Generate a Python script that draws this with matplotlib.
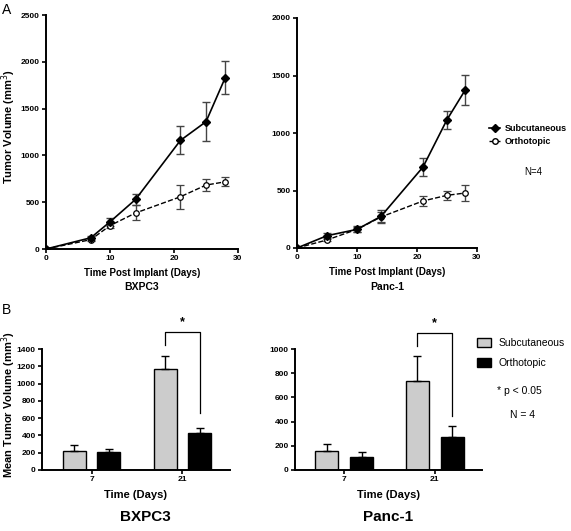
import numpy as np
import matplotlib
matplotlib.use('Agg')
import matplotlib.pyplot as plt
from matplotlib.lines import Line2D

plt.rcParams['font.family'] = ['Liberation Sans', 'DejaVu Sans']

# ---- data ----
days_bx = [0, 7, 10, 14, 21, 25, 28]
sub_bx = [0, 120, 290, 530, 1160, 1360, 1830]
sub_bx_err = [0, 20, 40, 60, 150, 210, 175]
ort_bx = [0, 100, 250, 385, 558, 683, 718]
ort_bx_err = [0, 15, 30, 80, 130, 65, 50]

days_pa = [0, 5, 10, 14, 21, 25, 28]
sub_pa = [0, 107, 162, 275, 704, 1116, 1371]
sub_pa_err = [0, 20, 25, 55, 75, 78, 130]
ort_pa = [0, 70, 162, 270, 409, 458, 478]
ort_pa_err = [0, 10, 20, 40, 40, 38, 70]

bar_days = ['7', '21']
bar_sub_bx = [223, 1173]
bar_sub_bx_err = [70, 142]
bar_ort_bx = [212, 431]
bar_ort_bx_err = [30, 50]
bar_sub_pa = [159, 736]
bar_sub_pa_err = [60, 204]
bar_ort_pa = [107, 275]
bar_ort_pa_err = [40, 88]

W, H = 571, 531
fig = plt.figure(figsize=(W / 100, H / 100), dpi=100)
fig.patch.set_facecolor('white')


def px_axes(l, t, r, b):
    return fig.add_axes([l / W, 1 - b / H, (r - l) / W, (b - t) / H])


def ftext(x, y, s, **kw):
    fig.text(x / W, 1 - y / H, s, **kw)


def style(ax):
    for s in ['top', 'right']:
        ax.spines[s].set_visible(False)
    for s in ['left', 'bottom']:
        ax.spines[s].set_linewidth(1.4)
    ax.tick_params(direction='out', length=3, width=1.2, labelsize=6, pad=1.5)
    for lab in ax.get_xticklabels() + ax.get_yticklabels():
        lab.set_fontweight('bold')


def growth(ax, days, sub, sube, ort, orte, ymax):
    ax.errorbar(days, ort, yerr=orte, color='black', ls='--', lw=1.0,
                marker='o', mfc='white', mec='black', ms=4, mew=0.9,
                ecolor='#444444', elinewidth=1.0, capsize=3)
    ax.errorbar(days, sub, yerr=sube, color='black', ls='-', lw=1.2,
                marker='D', mfc='black', mec='black', ms=4,
                ecolor='#444444', elinewidth=1.0, capsize=3)
    ax.set_xlim(0, 30)
    ax.set_ylim(0, ymax)
    ax.set_xticks([0, 10, 20, 30])
    ax.set_yticks(np.arange(0, ymax + 1, 500))
    ax.set_xlabel('Time Post Implant (Days)', fontsize=7, fontweight='bold', labelpad=4)
    style(ax)


# ---- panel A ----
axA1 = px_axes(46, 15, 238, 249)
growth(axA1, days_bx, sub_bx, sub_bx_err, ort_bx, ort_bx_err, 2500)
axA1.set_ylabel('Tumor Volume (mm$^3$)', fontsize=8, fontweight='bold')
axA1.yaxis.set_label_coords((18 - 46) / 192, 0.525)

axA2 = px_axes(297, 18, 477, 248)
growth(axA2, days_pa, sub_pa, sub_pa_err, ort_pa, ort_pa_err, 2000)

hA = [Line2D([], [], color='black', ls='-', lw=1.2, marker='D', ms=4, mfc='black'),
      Line2D([], [], color='black', ls='--', lw=1.0, marker='o', ms=4, mfc='white')]
axA2.legend(hA, ['Subcutaneous', 'Orthotopic'], frameon=False, loc='center left',
            bbox_to_anchor=(481 / W, 1 - 135 / H), bbox_transform=fig.transFigure,
            handlelength=1.2, handletextpad=0.5, labelspacing=0.45,
            prop={'weight': 'bold', 'size': 6.5})
ftext(533, 172, 'N=4', fontsize=7, ha='center', va='center')

ftext(142, 287, 'BXPC3', fontsize=7.5, fontweight='bold', ha='center', va='center')
ftext(387, 287, 'Panc-1', fontsize=7.5, fontweight='bold', ha='center', va='center')
ftext(2, 10, 'A', fontsize=10, ha='left', va='center')
ftext(2, 310, 'B', fontsize=10, ha='left', va='center')


# ---- panel B ----
def bars(ax, sub, sube, ort, orte, ymax, step, br):
    x = np.arange(len(bar_days))
    off, w = 0.192, 0.253
    ekw = dict(elinewidth=1.0, capsize=3, capthick=1.0)
    ax.bar(x - off, sub, w, yerr=[np.zeros(len(sube)), sube], color='#cccccc',
           edgecolor='black', lw=1.0, error_kw=ekw, label='Subcutaneous')
    ax.bar(x + off, ort, w, yerr=[np.zeros(len(orte)), orte], color='black',
           edgecolor='black', lw=1.0, error_kw=ekw, label='Orthotopic')
    ax.set_xlim(-0.544, 1.522)
    ax.set_ylim(0, ymax)
    ax.set_yticks(np.arange(0, ymax + 1, step))
    ax.set_xticks(x)
    ax.set_xticklabels(bar_days)
    ax.set_xlabel('Time (Days)', fontsize=8, fontweight='bold', labelpad=5)
    style(ax)
    # significance bracket
    top, lft, rgt = br
    ax.plot([1 - off, 1 - off, 1 + off, 1 + off], [lft, top, top, rgt],
            color='black', lw=0.9, clip_on=False)
    ax.text(1, top + ymax * 0.035, '*', fontsize=9, fontweight='bold',
            ha='center', va='bottom', clip_on=False)


axB1 = px_axes(42, 349, 230, 470)
bars(axB1, bar_sub_bx, bar_sub_bx_err, bar_ort_bx, bar_ort_bx_err, 1400, 200,
     (1596, 1446, 661))
axB1.set_ylabel('Mean Tumor Volume (mm$^3$)', fontsize=8, fontweight='bold')
axB1.yaxis.set_label_coords((18 - 42) / 188, 0.54)

axB2 = px_axes(295, 349, 482, 470)
bars(axB2, bar_sub_pa, bar_sub_pa_err, bar_ort_pa, bar_ort_pa_err, 1000, 200,
     (1131, 1024, 448))
axB2.legend(frameon=False, loc='center left',
            bbox_to_anchor=(468 / W, 1 - 353 / H), bbox_transform=fig.transFigure,
            fontsize=7.5, handlelength=1.3, handleheight=1.0, handletextpad=0.7,
            labelspacing=0.9)
ftext(497, 391, '* p < 0.05', fontsize=7.5, ha='left', va='center')
ftext(523, 415, 'N = 4', fontsize=7.5, ha='center', va='center')

ftext(145, 517, 'BXPC3', fontsize=11, fontweight='bold', ha='center', va='center')
ftext(388, 517, 'Panc-1', fontsize=11, fontweight='bold', ha='center', va='center')

fig.savefig('out.png', dpi=100, facecolor='white')
